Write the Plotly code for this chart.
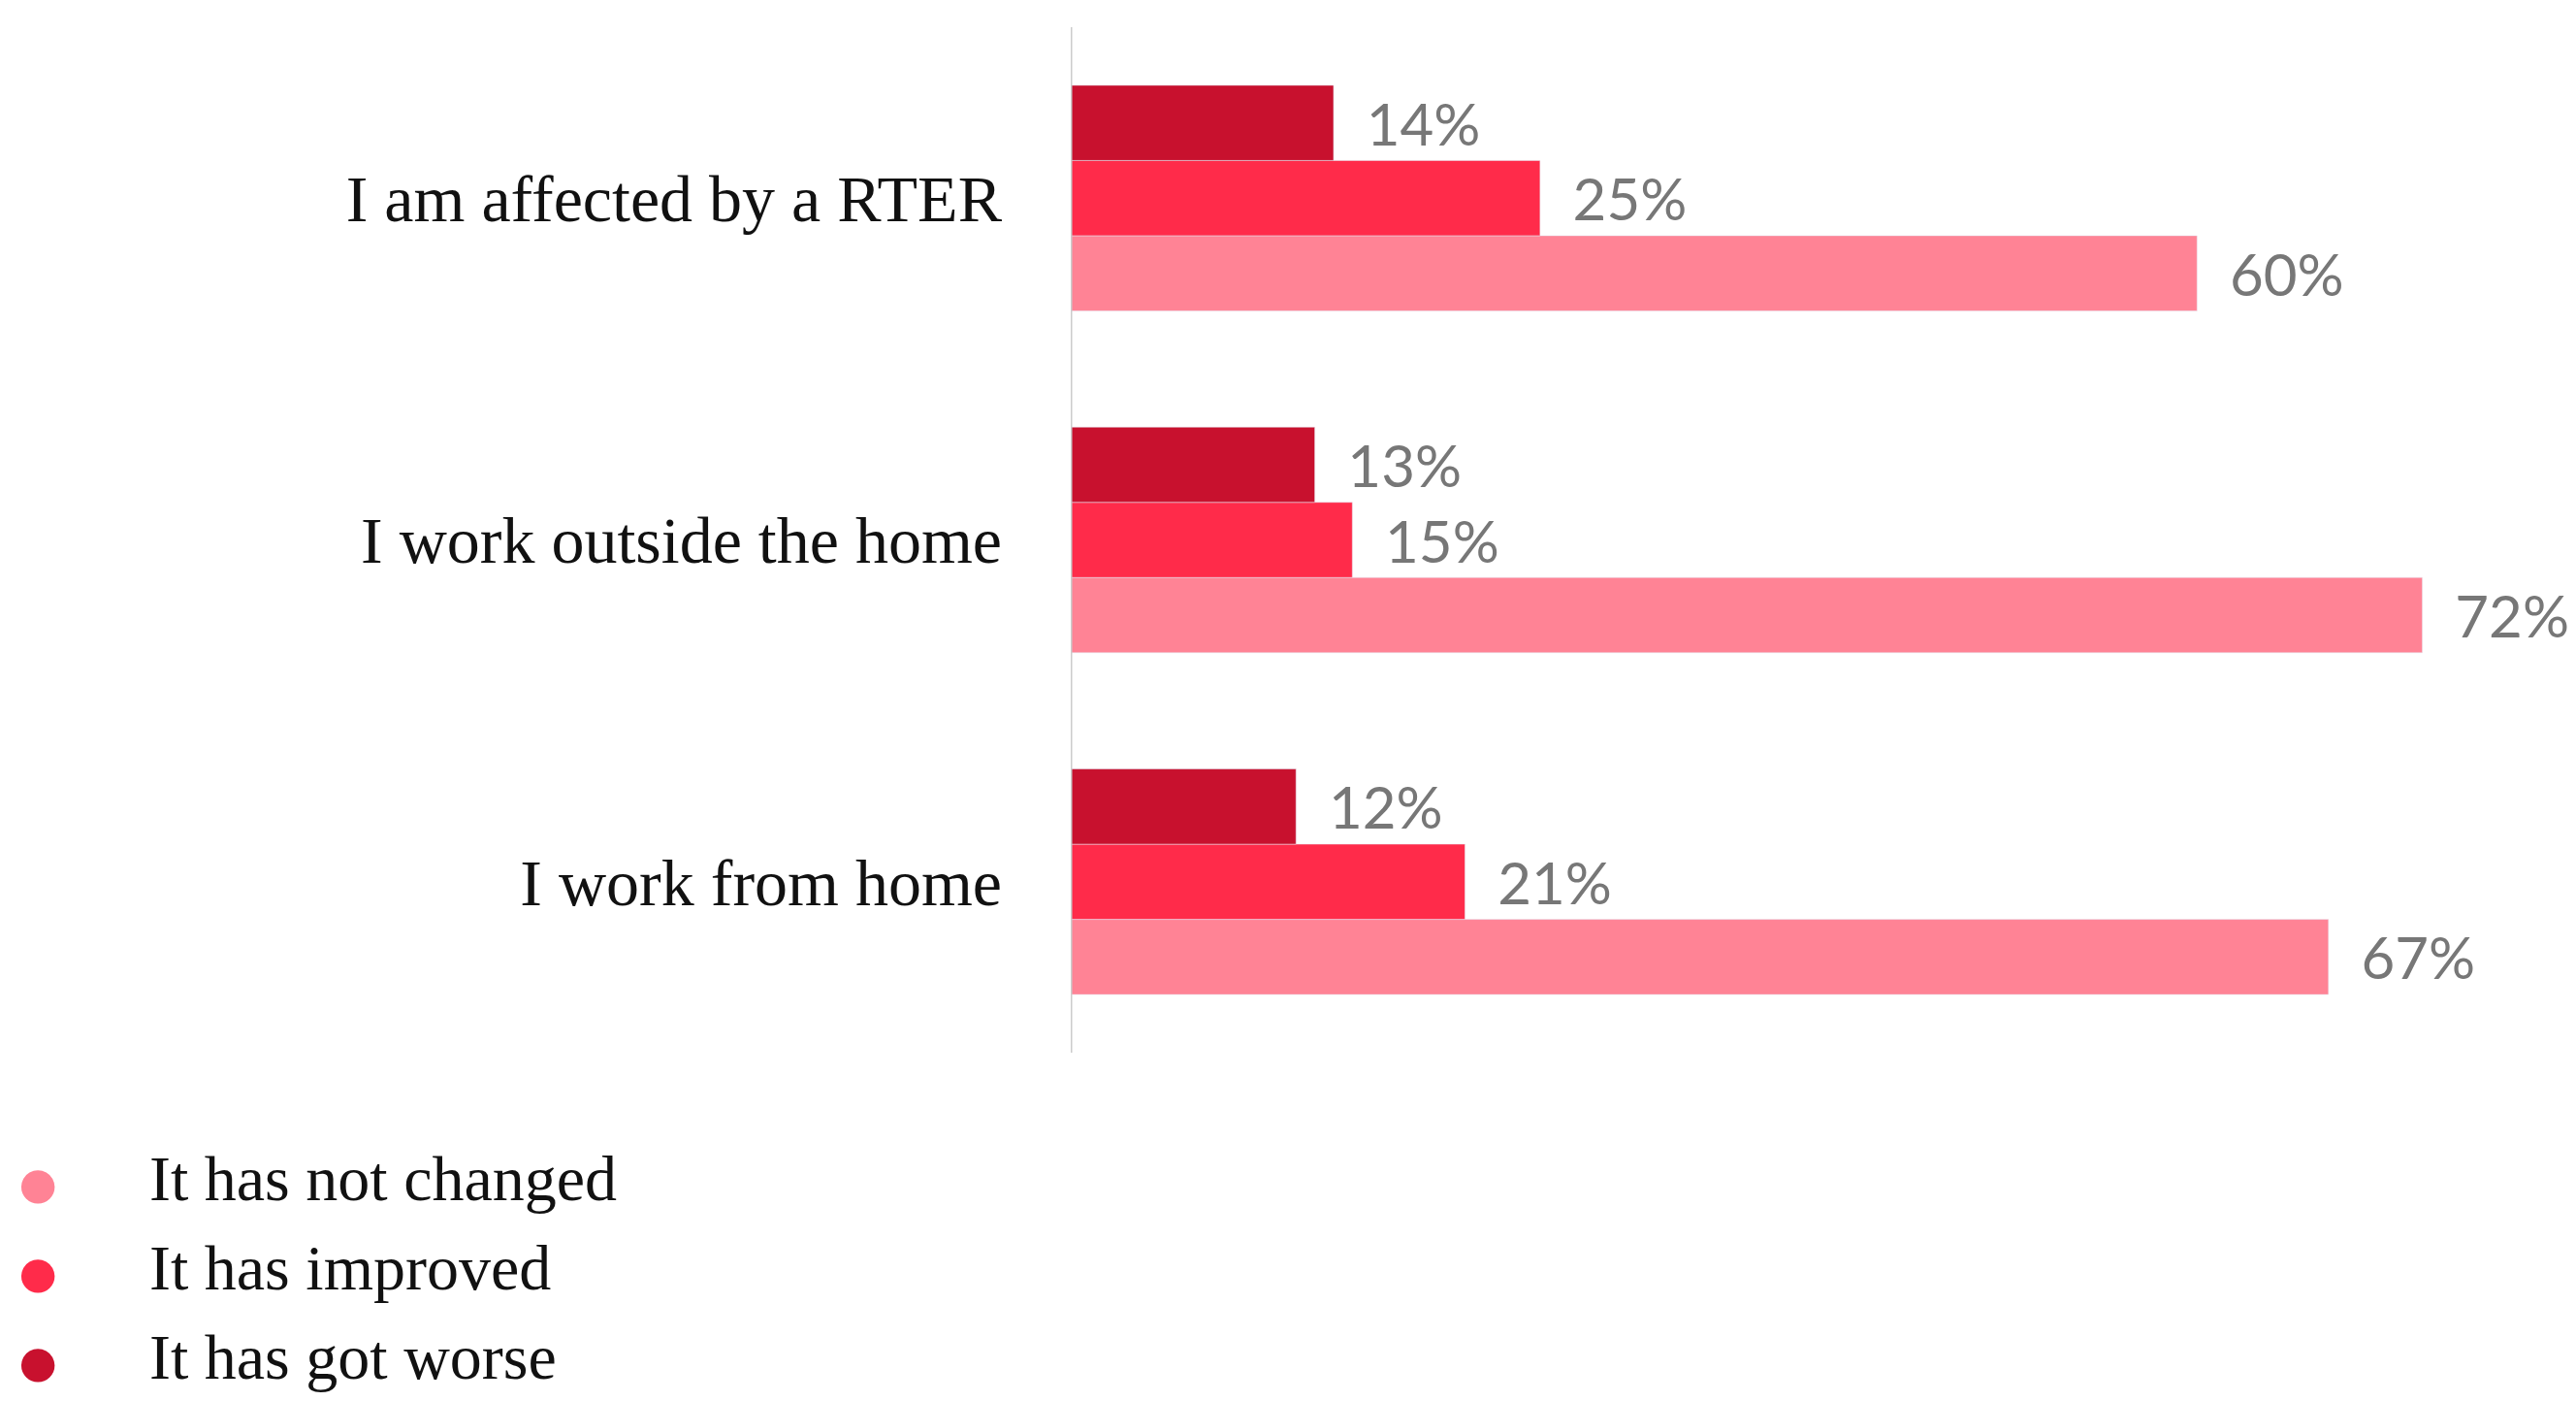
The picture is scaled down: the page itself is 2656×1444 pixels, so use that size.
import plotly.graph_objects as go

categories = ["I am affected by a RTER", "I work outside the home", "I work from home"]
not_changed = [60, 72, 67]
improved = [25, 15, 21]
worse = [14, 13, 12]
series = [("It has not changed", not_changed, "#FF8395"),
          ("It has improved", improved, "#FF2B4A"),
          ("It has got worse", worse, "#C8112E")]

fig = go.Figure()
for name, vals, col in series:
    fig.add_trace(go.Bar(
        y=categories, x=vals, orientation="h", marker_color=col, name=name,
        text=[f"  {v}%" for v in vals], textposition="outside",
        textfont=dict(family="Lato", size=60, color="#777777"),
        cliponaxis=False, showlegend=False))

annotations = []
for i, (name, vals, col) in enumerate(series):
    yy = 1 - (1206 + i * 92) / 1444
    annotations.append(dict(xref="paper", yref="paper", x=-1096 / 1560 + 0.003, y=0,
                            yanchor="middle", xanchor="left", showarrow=False,
                            text="●", font=dict(size=80, color=col)))
    annotations[-1]["yref"] = "container" if False else "paper"
    annotations[-1]["y"] = (1444 - 367 - (1206 + i * 92)) / (1444 - 367 - 20)
    annotations.append(dict(xref="paper", yref="paper", x=-1096 / 1560 + 0.092,
                            y=annotations[-1]["y"], yanchor="middle", xanchor="left",
                            showarrow=False, text=name,
                            font=dict(family="Liberation Serif", size=66, color="#111111")))

fig.update_layout(
    width=2656, height=1444, barmode="group", bargap=0.34, bargroupgap=0,
    plot_bgcolor="white", paper_bgcolor="white", showlegend=False,
    margin=dict(l=1096, r=0, t=20, b=367),
    xaxis=dict(range=[0, 80.6], visible=False),
    yaxis=dict(categoryorder="array", categoryarray=categories[::-1],
               showline=False, ticks="", ticklabelstandoff=70, automargin=False,
               tickfont=dict(family="Liberation Serif", size=68, color="#111111")),
    annotations=annotations,
    shapes=[dict(type="line", xref="x", yref="paper", x0=0, x1=0, y0=0, y1=1,
                 line=dict(color="#CCCCCC", width=3))],
)
fig.write_html("out.html")
